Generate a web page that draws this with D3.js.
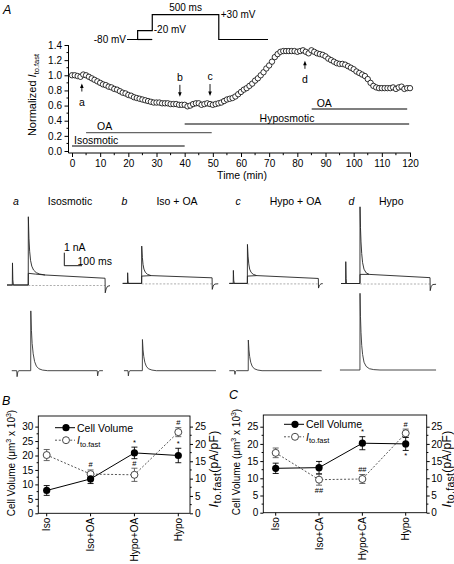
<!DOCTYPE html>
<html><head><meta charset="utf-8">
<script src="https://cdn.jsdelivr.net/npm/d3@7"></script>
<style>
body{margin:0;background:#fff}
svg{display:block;background:#fff}
text{font-family:"Liberation Sans",Arial,Helvetica,sans-serif;fill:#000}
</style></head><body>
<svg id="c" width="454" height="564"></svg>
<script>
// ================= DATA =================
// Panel A : normalized I_to.fast sampled every minute
const timeMin = d3.range(0, 121, 1);
const normIto = [
 1.00,1.00,0.99,0.98,1.01,1.00,0.98,0.96,0.94,0.92,
 0.90,0.88,0.87,0.85,0.84,0.82,0.81,0.79,0.77,0.76,
 0.74,0.73,0.71,0.70,0.69,0.68,0.67,0.66,0.65,0.64,
 0.64,0.64,0.63,0.63,0.63,0.62,0.62,0.62,0.61,0.61,
 0.61,0.59,0.60,0.62,0.63,0.63,0.61,0.62,0.63,0.62,
 0.61,0.62,0.63,0.64,0.66,0.68,0.69,0.70,0.72,0.75,
 0.78,0.81,0.83,0.86,0.89,0.93,0.96,1.00,1.04,1.09,
 1.13,1.18,1.24,1.28,1.31,1.32,1.32,1.32,1.32,1.32,
 1.31,1.32,1.33,1.31,1.29,1.33,1.31,1.29,1.28,1.27,
 1.25,1.22,1.20,1.18,1.16,1.15,1.15,1.14,1.12,1.10,
 1.08,1.05,1.03,1.01,0.99,0.95,0.90,0.86,0.84,0.83,
 0.83,0.83,0.83,0.83,0.84,0.82,0.84,0.85,0.82,0.83,
 0.83];
const xTicksA = [0,10,20,30,40,50,60,70,80,90,100,110,120];
const xMinorA = [5,15,25,35,45,55,65,75,85,95,105,115];
const yTicksA = [0,0.2,0.4,0.6,0.8,1.0,1.2,1.4];
const yMinorA = [0.1,0.3,0.5,0.7,0.9,1.1,1.3];

const barNames = ["Isosmotic","OA","Hyposmotic","OA"];
const barStart = [0,5,40,85.1];
const barEnd   = [40,49.6,119.7,119];

const arrowLabels = ["a","b","c","d"];
const arrowTimes  = [3.5,38.3,49,82.7];
const arrowDir    = ["up","down","down","up"];

// voltage protocol (schematic)
const protoTimes = [0,80,190,690,1060];      // ms
const protoLevels = [-80,-20,30];            // mV
const protoText = ["-80 mV","-20 mV","500 ms","+30 mV"];

// current traces [ms, nA]
const traceLetters = ["a","b","c","d"];
const traceTitles  = ["Isosmotic","Iso + OA","Hypo + OA","Hypo"];
const pulseOn  = [120,107,102,107];
const pulseOff = [554,505,503,503];
const tracePeak = [
 [[0,0],[120,0],[120.5,5.25],[124,3.6],[128,2.6],[133,1.9],[140,1.45],[150,1.15],[165,0.95],[185,0.84],[215,0.77],[554,0.52],[555,-0.6],[560,-0.3],[568,-0.1],[582,-0.05]],
 [[0,0],[107,0],[107.5,2.87],[111,2.0],[115,1.45],[120,1.1],[128,0.85],[140,0.7],[160,0.6],[505,0.43],[506,-0.46],[511,-0.2],[520,-0.05],[540,-0.03]],
 [[0,0],[102,0],[102.5,3.0],[106,2.1],[110,1.5],[115,1.1],[123,0.85],[135,0.7],[155,0.6],[503,0.38],[504,-0.36],[509,-0.15],[518,-0.03],[528,-0.02]],
 [[0,0],[107,0],[107.5,5.9],[110,4.3],[113,3.2],[117,2.3],[122,1.6],[130,1.1],[142,0.82],[160,0.7],[503,0.45],[504,-0.55],[509,-0.25],[518,-0.08],[537,-0.06]]
];
const traceStep = [
 [[0,0],[30,0],[31,1.7],[33,0.4],[36,0],[120,0],[120.5,0.9],[160,0.84],[215,0.77]],
 [[0,0],[27,0],[28,0.82],[30,0.2],[32,0],[107,0],[107.5,0.56],[160,0.6]],
 [[0,0],[22,0],[23,1.0],[25,0.25],[28,0],[102,0],[102.5,0.56],[155,0.6]],
 [[0,0],[26,0],[27,1.68],[29,0.4],[31,0],[107,0],[107.5,0.7],[160,0.7]]
];
const traceDiff = [
 [[27,0],[55,0],[57,-0.46],[61,-0.1],[66,0],[134,0],[134.5,4.6],[138,3.1],[142,2.1],[148,1.3],[156,0.7],[166,0.35],[180,0.15],[200,0.05],[230,0],[510,0],[512,-0.4],[516,-0.1],[522,0],[542,0]],
 [[7,0],[30,0],[32,-0.4],[35,-0.1],[40,0],[111,0],[111.5,2.4],[115,1.6],[119,1.1],[125,0.65],[133,0.35],[145,0.15],[165,0.05],[190,0],[527,0]],
 [[0,0],[29,0],[32,-0.28],[35,-0.05],[40,0],[107,0],[107.5,2.36],[111,1.6],[115,1.1],[121,0.65],[129,0.35],[141,0.15],[161,0.05],[185,0],[522,0]],
 [[-6,0],[107,0],[107.5,5.9],[110,4.1],[113,2.9],[117,1.9],[122,1.2],[130,0.6],[142,0.28],[160,0.1],[185,0.03],[220,0],[537,0]]
];

// Panel B
const catsB = ["Iso","Iso+OA","Hypo+OA","Hypo"];
const volB = [7.9,11.9,20.9,20.0];
const volBErr = [1.7,1.6,2.0,2.5];
const itoB = [16.8,11.3,11.1,23.4];
const itoBErr = [1.6,1.2,1.9,1.3];
const sigB = [
 {cat:"Iso+OA", s:"ito", pos:"above", t:"#"},
 {cat:"Hypo+OA", s:"vol", pos:"above", t:"*"},
 {cat:"Hypo+OA", s:"ito", pos:"above", t:"#"},
 {cat:"Hypo", s:"ito", pos:"above", t:"#"},
 {cat:"Hypo", s:"vol", pos:"above", t:"*"}];
const ticksVolB = [0,5,10,15,20,25,30];
const ticksItoB = [0,5,10,15,20,25];

// Panel C
const catsC = ["Iso","Iso+CA","Hypo+CA","Hypo"];
const volC = [12.9,13.1,20.2,20.0];
const volCErr = [1.5,1.8,1.9,1.9];
const itoC = [17.4,9.6,9.8,23.1];
const itoCErr = [1.4,1.6,1.3,1.2];
const sigC = [
 {cat:"Iso+CA", s:"ito", pos:"below", t:"##"},
 {cat:"Hypo+CA", s:"vol", pos:"above", t:"*"},
 {cat:"Hypo+CA", s:"ito", pos:"above", t:"##"},
 {cat:"Hypo", s:"ito", pos:"above", t:"#"},
 {cat:"Hypo", s:"vol", pos:"below", t:"*"}];
const ticksVolC = [0,5,10,15,20,25];
const ticksItoC = [0,5,10,15,20,25];

// ================= DRAW =================
const FF = '"Liberation Sans",Arial,Helvetica,sans-serif';
const svg = d3.select("#c");
svg.append("rect").attr("width",454).attr("height",564).attr("fill","#fff");

function styleAxis(g, fs){
  g.attr("font-family", FF).attr("font-size", fs);
  g.selectAll(".tick line").attr("stroke","#000");
  g.select(".domain").remove();
}

// ---------- Panel A ----------
const gA = svg.append("g");
gA.append("text").attr("x",3).attr("y",14).attr("font-size",12.5).attr("font-style","italic").text("A");
const xA = d3.scaleLinear().domain([0,120]).range([72,410]);
const yA = d3.scaleLinear().domain([0,1.4]).range([151,45]);
const axisY0 = 68.5, axisX0 = 153;

gA.append("g").attr("transform",`translate(${axisY0},0)`)
  .call(d3.axisLeft(yA).tickValues(yTicksA).tickFormat(d3.format(".1f")).tickSize(4).tickPadding(2.5))
  .call(g=>styleAxis(g,10));
gA.append("g").attr("transform",`translate(0,${axisX0})`)
  .call(d3.axisBottom(xA).tickValues(xTicksA).tickSize(4).tickPadding(3))
  .call(g=>styleAxis(g,10));
gA.selectAll(".ymA").data(yMinorA).join("line")
  .attr("x1",axisY0).attr("x2",axisY0-2).attr("y1",d=>yA(d)).attr("y2",d=>yA(d)).attr("stroke","#000");
gA.selectAll(".xmA").data(xMinorA).join("line")
  .attr("x1",d=>xA(d)).attr("x2",d=>xA(d)).attr("y1",axisX0).attr("y2",axisX0+2.2).attr("stroke","#000");
gA.append("line").attr("x1",axisY0).attr("x2",axisY0).attr("y1",yA(1.4)).attr("y2",axisX0).attr("stroke","#000");
gA.append("line").attr("x1",axisY0).attr("x2",xA(120)+1).attr("y1",axisX0).attr("y2",axisX0).attr("stroke","#000");

gA.append("text").attr("x",242).attr("y",179).attr("text-anchor","middle").attr("font-size",10.5).text("Time (min)");
const ylA = gA.append("text").attr("transform","translate(36,95) rotate(-90)").attr("text-anchor","middle").attr("font-size",11);
ylA.append("tspan").text("Normalized ");
ylA.append("tspan").attr("font-style","italic").text("I");
ylA.append("tspan").attr("font-size",7.5).attr("dy",2.5).text("to.fast");

// treatment bars
const barY = [146,132.7,124,109];
const barColor = ["#000","#666","#000","#000"];
barNames.forEach((n,i)=>{
  gA.append("line").attr("x1",xA(barStart[i])).attr("x2",xA(barEnd[i]))
    .attr("y1",barY[i]).attr("y2",barY[i]).attr("stroke",barColor[i]).attr("stroke-width",1.2);
});
const barLabelX = [xA(barStart[0])+2, xA(barStart[1])+11, 287, xA(barStart[3])+5];
const barLabelAnchor = ["start","start","middle","start"];
barNames.forEach((n,i)=>{
  gA.append("text").attr("x",barLabelX[i]).attr("y",barY[i]-2.5).attr("text-anchor",barLabelAnchor[i])
    .attr("font-size",10.5).text(n);
});

// data circles
gA.selectAll(".pt").data(normIto).join("circle")
  .attr("cx",(d,i)=>xA(timeMin[i])).attr("cy",d=>yA(d)).attr("r",2.7)
  .attr("fill","#fff").attr("stroke","#000").attr("stroke-width",0.8);

// arrows
arrowLabels.forEach((lab,i)=>{
  const t = arrowTimes[i];
  const v = normIto[Math.round(t)];
  const x = xA(t), y = yA(v);
  let tip, tail, ly;
  if(arrowDir[i]==="up"){ tip=y+9; tail=tip+8; ly=tail+14; }
  else { tip=y-8; tail=tip-12; ly=tail-4; }
  const dir = arrowDir[i]==="up" ? 1 : -1;
  gA.append("line").attr("x1",x).attr("x2",x).attr("y1",tail).attr("y2",tip+dir*2).attr("stroke","#000").attr("stroke-width",0.9);
  gA.append("path").attr("d",`M${x},${tip}L${x-1.8},${tip+dir*4.5}L${x+1.8},${tip+dir*4.5}Z`).attr("fill","#000");
  gA.append("text").attr("x",x).attr("y",ly).attr("text-anchor","middle").attr("font-size",10.5).text(lab);
});

// voltage protocol
const xP = d3.scaleLinear().domain([0,1060]).range([127,268]);
const yP = d3.scaleLinear().domain([-80,-20,30]).range([39.5,30.7,14.7]);
const [pt0,pt1,pt2,pt3,pt4] = protoTimes;
const [vh,vp,vt] = protoLevels;
const protoPath1 = [[pt0,vh],[pt1,vh],[pt1,vp],[pt2,vp],[pt2,vt],[pt3,vt],[pt3,vh],[pt4,vh]];
const protoPath2 = [[pt1,vh],[pt2,vh]];
const pline = d3.line().x(d=>xP(d[0])).y(d=>yP(d[1]));
[protoPath1,protoPath2].forEach(p=>gA.append("path").attr("d",pline(p)).attr("fill","none").attr("stroke","#000").attr("stroke-width",1.2));
gA.append("text").attr("x",xP(pt0)-1).attr("y",yP(vh)+3.6).attr("text-anchor","end").attr("font-size",10).text(protoText[0]);
gA.append("text").attr("x",xP(pt2)+1.5).attr("y",yP(vp)+2.5).attr("font-size",10).text(protoText[1]);
gA.append("text").attr("x",(xP(pt2)+xP(pt3))/2).attr("y",yP(vt)-4).attr("text-anchor","middle").attr("font-size",10).text(protoText[2]);
gA.append("text").attr("x",xP(pt3)+2).attr("y",yP(vt)+3.5).attr("font-size",10).text(protoText[3]);

// ---------- Current traces ----------
const gT = svg.append("g");
const colX = [7,122.7,229.3,341];
const topBase = [285,283.4,283.4,283.5];
const botBase = [370.7,370.7,370.7,370];
const letterX = [13,121.5,235.5,348.5];
const titleX = [70,177,295.5,391.3];
traceLetters.forEach((L,i)=>{
  gT.append("text").attr("x",letterX[i]).attr("y",204.5).attr("font-size",10.5).attr("font-style","italic").text(L);
  gT.append("text").attr("x",titleX[i]).attr("y",204.5).attr("text-anchor","middle").attr("font-size",10.5).text(traceTitles[i]);
  const xs = d3.scaleLinear().domain([0,100]).range([colX[i],colX[i]+17.7]);
  const yt = d3.scaleLinear().domain([0,1]).range([topBase[i],topBase[i]-13]);
  const yb = d3.scaleLinear().domain([0,1]).range([botBase[i],botBase[i]-13]);
  gT.append("line").attr("x1",xs(pulseOn[i])).attr("x2",xs(pulseOff[i]))
    .attr("y1",yt(0)+0.5).attr("y2",yt(0)+0.5).attr("stroke","#999").attr("stroke-width",0.8).attr("stroke-dasharray","2,1.6");
  const lt = d3.line().x(d=>xs(d[0])).y(d=>yt(d[1]));
  const lb = d3.line().x(d=>xs(d[0])).y(d=>yb(d[1]));
  gT.append("path").attr("d",lt(traceStep[i])).attr("fill","none").attr("stroke","#222").attr("stroke-width",0.9);
  gT.append("path").attr("d",lt(tracePeak[i])).attr("fill","none").attr("stroke","#222").attr("stroke-width",0.9);
  gT.append("path").attr("d",lb(traceDiff[i])).attr("fill","none").attr("stroke","#333").attr("stroke-width",0.9);
  if(i===0){
    // scale bar 1 nA / 100 ms
    const sbx = 64.3, sby = 265.7;
    gT.append("path").attr("d",`M${sbx},${sby-(yt(0)-yt(1))}V${sby}H${sbx+(xs(100)-xs(0))}`)
      .attr("fill","none").attr("stroke","#000").attr("stroke-width",0.9);
    gT.append("text").attr("x",64).attr("y",251).attr("font-size",10.5).text("1 nA");
    gT.append("text").attr("x",77.5).attr("y",264.5).attr("font-size",10.5).text("100 ms");
  }
});

// ---------- Panels B and C ----------
function drawSummary(o){
  const g = svg.append("g");
  g.append("text").attr("x",o.letterPos[0]).attr("y",o.letterPos[1]).attr("font-size",12.5).attr("font-style","italic").text(o.letter);
  const x = d3.scalePoint().domain(o.cats).range(o.catRange);
  const yL = o.yL, yR = o.yR;
  const f = o.frame;
  g.append("rect").attr("x",f.l).attr("y",f.t).attr("width",f.r-f.l).attr("height",f.b-f.t)
    .attr("fill","none").attr("stroke","#000").attr("stroke-width",0.9);
  g.append("g").attr("transform",`translate(${f.l},0)`)
    .call(d3.axisLeft(yL).tickValues(o.ticksL).tickSize(3).tickPadding(2)).call(gg=>styleAxis(gg,10));
  g.append("g").attr("transform",`translate(${f.r},0)`)
    .call(d3.axisRight(yR).tickValues(o.ticksR).tickSize(3).tickPadding(o.rightPad)).call(gg=>styleAxis(gg,10));
  // minor ticks
  o.ticksL.slice(0,-1).forEach(v=>{const yy=yL(v+2.5); if(yy>f.t) g.append("line").attr("x1",f.l).attr("x2",f.l-1.7).attr("y1",yy).attr("y2",yy).attr("stroke","#000");});
  o.ticksR.slice(0,-1).forEach(v=>{const yy=yR(v+2.5); if(yy>f.t) g.append("line").attr("x1",f.r).attr("x2",f.r+1.7).attr("y1",yy).attr("y2",yy).attr("stroke","#000");});
  o.cats.forEach(c=>{
    g.append("line").attr("x1",x(c)).attr("x2",x(c)).attr("y1",f.b).attr("y2",f.b+3).attr("stroke","#000");
    g.append("text").attr("transform",`translate(${x(c)+3.6},${f.b+4.5}) rotate(-90)`).attr("text-anchor","end")
      .attr("font-size",10).text(c);
  });
  // axis titles
  const tl = g.append("text").attr("transform",`translate(${o.leftTitle[0]},${o.leftTitle[1]}) rotate(-90)`).attr("text-anchor","middle").attr("font-size",10);
  tl.append("tspan").text("Cell Volume (\u03BCm");
  tl.append("tspan").attr("font-size",7).attr("dy",-4).text("3");
  tl.append("tspan").attr("dy",4).text(" x 10");
  tl.append("tspan").attr("font-size",7).attr("dy",-4).text("3");
  tl.append("tspan").attr("dy",4).text(")");
  const tr = g.append("text").attr("transform",`translate(${o.rightTitle[0]},${o.rightTitle[1]}) rotate(-90)`)
    .attr("text-anchor","middle").attr("font-size",12).attr("letter-spacing",0.3);
  tr.append("tspan").attr("font-style","italic").attr("font-size",13.5).text("I");
  tr.append("tspan").attr("font-size",10.5).attr("dy",2.5).text("to.fast");
  tr.append("tspan").attr("dy",-2.5).attr("font-size",12).text("(pA/pF)");

  const vol = o.cats.map((c,i)=>({c, v:o.vol[i], e:o.volErr[i]}));
  const ito = o.cats.map((c,i)=>({c, v:o.ito[i], e:o.itoErr[i]}));
  g.append("path").attr("d",d3.line().x(d=>x(d.c)).y(d=>yR(d.v))(ito)).attr("fill","none")
    .attr("stroke","#555").attr("stroke-width",1).attr("stroke-dasharray","2,1.8");
  g.append("path").attr("d",d3.line().x(d=>x(d.c)).y(d=>yL(d.v))(vol)).attr("fill","none")
    .attr("stroke","#000").attr("stroke-width",1);
  function errBars(data, ys, col){
    data.forEach(d=>{
      const xx=x(d.c);
      g.append("path").attr("d",`M${xx},${ys(d.v-d.e)}V${ys(d.v+d.e)}M${xx-3},${ys(d.v-d.e)}H${xx+3}M${xx-3},${ys(d.v+d.e)}H${xx+3}`)
        .attr("stroke",col).attr("stroke-width",0.9).attr("fill","none");
    });
  }
  errBars(ito, yR, "#555");
  errBars(vol, yL, "#000");
  ito.forEach(d=>g.append("circle").attr("cx",x(d.c)).attr("cy",yR(d.v)).attr("r",3.5).attr("fill","#fff").attr("stroke","#333").attr("stroke-width",0.9));
  vol.forEach(d=>g.append("circle").attr("cx",x(d.c)).attr("cy",yL(d.v)).attr("r",3.6).attr("fill","#000"));
  // significance marks
  o.sig.forEach(s=>{
    const i = o.cats.indexOf(s.cat);
    const ys = s.s==="vol" ? yL : yR;
    const v = s.s==="vol" ? o.vol[i] : o.ito[i];
    const e = s.s==="vol" ? o.volErr[i] : o.itoErr[i];
    const yy = s.pos==="above" ? ys(v+e)-2.5 : ys(v-e)+7.5;
    g.append("text").attr("x",x(s.cat)).attr("y",yy).attr("text-anchor","middle").attr("font-size",7.5).text(s.t);
  });
  // legend
  const [lx,ly] = o.legend;
  g.append("line").attr("x1",lx).attr("x2",lx+20).attr("y1",ly).attr("y2",ly).attr("stroke","#000");
  g.append("circle").attr("cx",lx+11).attr("cy",ly).attr("r",3.6).attr("fill","#000");
  g.append("text").attr("x",lx+22).attr("y",ly+4).attr("font-size",10.5).text("Cell Volume");
  const ly2 = ly+12.5;
  g.append("line").attr("x1",lx).attr("x2",lx+20).attr("y1",ly2).attr("y2",ly2).attr("stroke","#555").attr("stroke-dasharray","2,1.8");
  g.append("circle").attr("cx",lx+11).attr("cy",ly2).attr("r",3.5).attr("fill","#fff").attr("stroke","#333").attr("stroke-width",0.9);
  const lt = g.append("text").attr("x",lx+22).attr("y",ly2+4).attr("font-size",10.5);
  lt.append("tspan").attr("font-style","italic").text("I");
  lt.append("tspan").attr("font-size",7.5).attr("dy",2.5).text("to.fast");
}

drawSummary({
  letter:"B", letterPos:[2,405],
  cats:catsB, vol:volB, volErr:volBErr, ito:itoB, itoErr:itoBErr, sig:sigB,
  catRange:[46.7,178.3],
  frame:{l:38.3,r:190,t:416,b:513.3},
  yL:d3.scaleLinear().domain([0,30]).range([513.3,426.6]),
  yR:d3.scaleLinear().domain([0,25]).range([513.3,426.6]),
  ticksL:ticksVolB, ticksR:ticksItoB, rightPad:2,
  leftTitle:[15,463], rightTitle:[218,469],
  legend:[55,427.7]
});
drawSummary({
  letter:"C", letterPos:[229,399],
  cats:catsC, vol:volC, volErr:volCErr, ito:itoC, itoErr:itoCErr, sig:sigC,
  catRange:[275.7,405.7],
  frame:{l:263.3,r:426.7,t:415,b:512.7},
  yL:d3.scaleLinear().domain([0,25]).range([512.7,426.7]),
  yR:d3.scaleLinear().domain([0,25]).range([512.7,426.7]),
  ticksL:ticksVolC, ticksR:ticksItoC, rightPad:1.5,
  leftTitle:[240,462], rightTitle:[451,469],
  legend:[284,424.3]
});
</script>
</body></html>
